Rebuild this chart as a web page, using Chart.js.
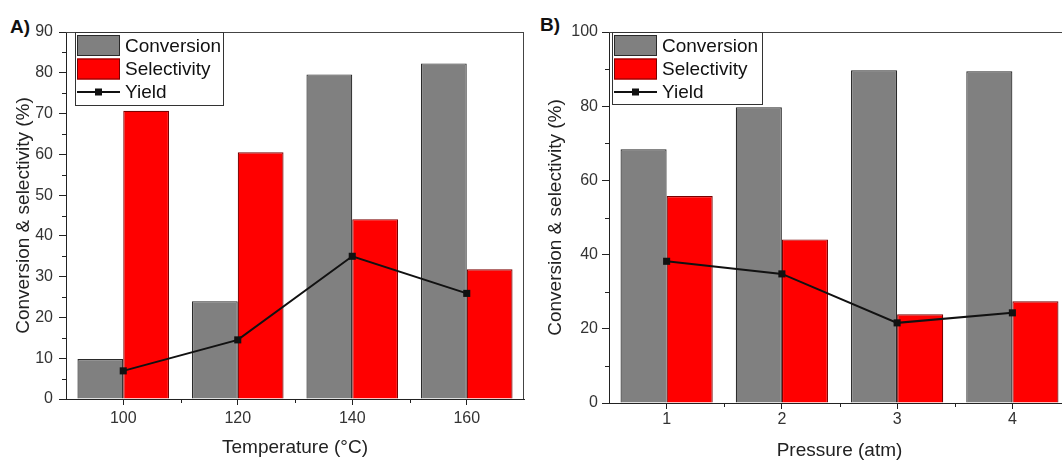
<!DOCTYPE html>
<html>
<head>
<meta charset="utf-8">
<script src="https://cdn.jsdelivr.net/npm/chart.js@4.4.1/dist/chart.umd.min.js"></script>
<style>
  html, body { margin: 0; padding: 0; background: #fff; overflow: hidden; width: 1062px; height: 460px; }
  .panel { position: absolute; top: 0; }
  .tag { position: absolute; font: bold 19px "Liberation Sans", Arial, sans-serif; line-height: 1.15; color: #111; }
</style>
</head>
<body>
<div class="tag" style="left:10px; top:16px;">A)</div>
<div class="tag" style="left:540px; top:14px;">B)</div>
<canvas id="chartA" class="panel" width="531" height="460" style="left:0"></canvas>
<canvas id="chartB" class="panel" width="560" height="460" style="left:531px"></canvas>

<script>
// Panel A: temperature series
const tempLabels = ['100', '120', '140', '160'];
const tempConversion = [9.8, 24.0, 79.6, 82.3];
const tempSelectivity = [70.7, 60.5, 44.1, 31.8];
const tempYield = [6.9, 14.5, 35.0, 25.9];

// Panel B: pressure series
const pressLabels = ['1', '2', '3', '4'];
const pressConversion = [68.4, 79.7, 89.7, 89.4];
const pressSelectivity = [55.8, 44.1, 23.9, 27.4];
const pressYield = [38.2, 34.8, 21.6, 24.3];

const seriesNames = ['Conversion', 'Selectivity', 'Yield'];

const FONT = '"Liberation Sans", Arial, sans-serif';
const AXIS = '#222';

// frame (top/right), minor ticks and Origin-like legend box
const originPlugin = {
    id: 'originFrame',
    afterDatasetsDraw(chart, args, opts) {
        const { ctx, chartArea: a, scales } = chart;
        ctx.save();
        ctx.strokeStyle = '#444';
        ctx.lineWidth = 1;
        ctx.beginPath();
        ctx.moveTo(a.left, a.top + 0.5);
        ctx.lineTo(a.right, a.top + 0.5);
        ctx.moveTo(a.right - 0.5, a.top);
        ctx.lineTo(a.right - 0.5, a.bottom);
        ctx.stroke();

        // minor ticks
        ctx.strokeStyle = AXIS;
        ctx.beginPath();
        const y = scales.y;
        const step = opts.yStep;
        for (let v = step / 2; v < y.max; v += step) {
            const py = Math.round(y.getPixelForValue(v)) + 0.5;
            ctx.moveTo(a.left - 4, py);
            ctx.lineTo(a.left, py);
        }
        const x = scales.x;
        for (let i = 0; i < x.ticks.length - 1; i++) {
            const px = Math.round((x.getPixelForTick(i) + x.getPixelForTick(i + 1)) / 2) + 0.5;
            ctx.moveTo(px, a.bottom);
            ctx.lineTo(px, a.bottom + 4);
        }
        ctx.stroke();

        // legend
        const L = opts.legend;
        const lx = a.left + L.dx, ly = a.top;
        ctx.fillStyle = '#fff';
        ctx.fillRect(lx, ly, L.w, L.h);
        ctx.strokeStyle = '#333';
        ctx.strokeRect(lx + 0.5, ly + 0.5, L.w - 1, L.h - 1);
        const ds = chart.data.datasets;
        const sx = lx + 2, sw = 43;
        const rows = [ly + 13.5, ly + 37, ly + 60];
        ctx.font = '19px ' + FONT;
        ctx.textBaseline = 'middle';
        ctx.textAlign = 'left';
        for (let i = 0; i < 2; i++) {
            ctx.fillStyle = ds[i].backgroundColor;
            ctx.fillRect(sx, rows[i] - 10.5, sw, 21);
            ctx.strokeStyle = ds[i].borderColor;
            ctx.strokeRect(sx + 0.5, rows[i] - 10, sw - 1, 20);
        }
        ctx.strokeStyle = ds[2].borderColor;
        ctx.lineWidth = 1.8;
        ctx.beginPath();
        ctx.moveTo(sx, rows[2]);
        ctx.lineTo(sx + sw, rows[2]);
        ctx.stroke();
        ctx.fillStyle = ds[2].borderColor;
        ctx.fillRect(sx + sw / 2 - 3.5, rows[2] - 3.5, 7, 7);
        ctx.fillStyle = '#111';
        for (let i = 0; i < 3; i++) {
            ctx.fillText(ds[i].label, sx + sw + 5, rows[i] + 1);
        }
        ctx.restore();
    }
};

function makePanel(id, labels, conv, sel, yld, cfg) {
    const ctx = document.getElementById(id).getContext('2d');
    return new Chart(ctx, {
        type: 'bar',
        data: {
            labels: labels,
            datasets: [{
                label: seriesNames[0],
                data: conv,
                backgroundColor: '#808080',
                borderColor: '#2a2a2a',
                borderWidth: 1.2,
                categoryPercentage: 0.8,
                barPercentage: 1.0,
                order: 1
            }, {
                label: seriesNames[1],
                data: sel,
                backgroundColor: '#ff0000',
                borderColor: '#7a0000',
                borderWidth: 1.2,
                categoryPercentage: 0.8,
                barPercentage: 1.0,
                order: 1
            }, {
                type: 'line',
                label: seriesNames[2],
                data: yld,
                borderColor: '#111',
                borderWidth: 2,
                pointStyle: 'rect',
                pointRadius: 5,
                pointBackgroundColor: '#111',
                pointBorderWidth: 0,
                tension: 0,
                order: 0
            }]
        },
        options: {
            responsive: false,
            animation: false,
            layout: { padding: { top: 32, right: cfg.padRight, left: 0, bottom: 0 } },
            scales: {
                x: {
                    type: 'category',
                    offset: true,
                    grid: { offset: false, drawOnChartArea: false, drawTicks: true, tickLength: 6, color: AXIS },
                    border: { display: true, color: AXIS, width: 1 },
                    ticks: { font: { family: FONT, size: 16 }, color: '#333', padding: cfg.xTickPad, maxRotation: 0 },
                    title: {
                        display: true, text: cfg.xTitle, color: '#222',
                        font: { family: FONT, size: 19, lineHeight: 1 },
                        padding: { top: 0, bottom: cfg.xTitlePad }
                    },
                    afterFit(scale) { scale.height = cfg.xHeight; }
                },
                y: {
                    min: 0,
                    max: cfg.yMax,
                    grid: { drawOnChartArea: false, drawTicks: true, tickLength: 7, color: AXIS },
                    border: { display: true, color: AXIS, width: 1 },
                    ticks: { stepSize: cfg.yStep, font: { family: FONT, size: 16 }, color: '#333', padding: cfg.yTickPad },
                    title: {
                        display: true, text: 'Conversion & selectivity (%)', color: '#222',
                        font: { family: FONT, size: 19, lineHeight: 1 },
                        padding: { top: cfg.yTitlePad, bottom: 0 }
                    },
                    afterFit(scale) { scale.width = cfg.yWidth; }
                }
            },
            plugins: {
                legend: { display: false },
                tooltip: { enabled: false },
                originFrame: { yStep: cfg.yStep, legend: cfg.legend }
            }
        },
        plugins: [originPlugin]
    });
}

makePanel('chartA', tempLabels, tempConversion, tempSelectivity, tempYield, {
    xTitle: 'Temperature (°C)', yMax: 90, yStep: 10,
    yWidth: 66, xHeight: 61, padRight: 7,
    xTickPad: 4, xTitlePad: 3, yTickPad: 6, yTitlePad: 14,
    legend: { dx: 9, w: 149, h: 74 }
});

makePanel('chartB', pressLabels, pressConversion, pressSelectivity, pressYield, {
    xTitle: 'Pressure (atm)', yMax: 100, yStep: 20,
    yWidth: 78, xHeight: 57, padRight: 21,
    xTickPad: 1, xTitlePad: 0, yTickPad: 4, yTitlePad: 15,
    legend: { dx: 3, w: 151, h: 73 }
});
</script>
</body>
</html>
